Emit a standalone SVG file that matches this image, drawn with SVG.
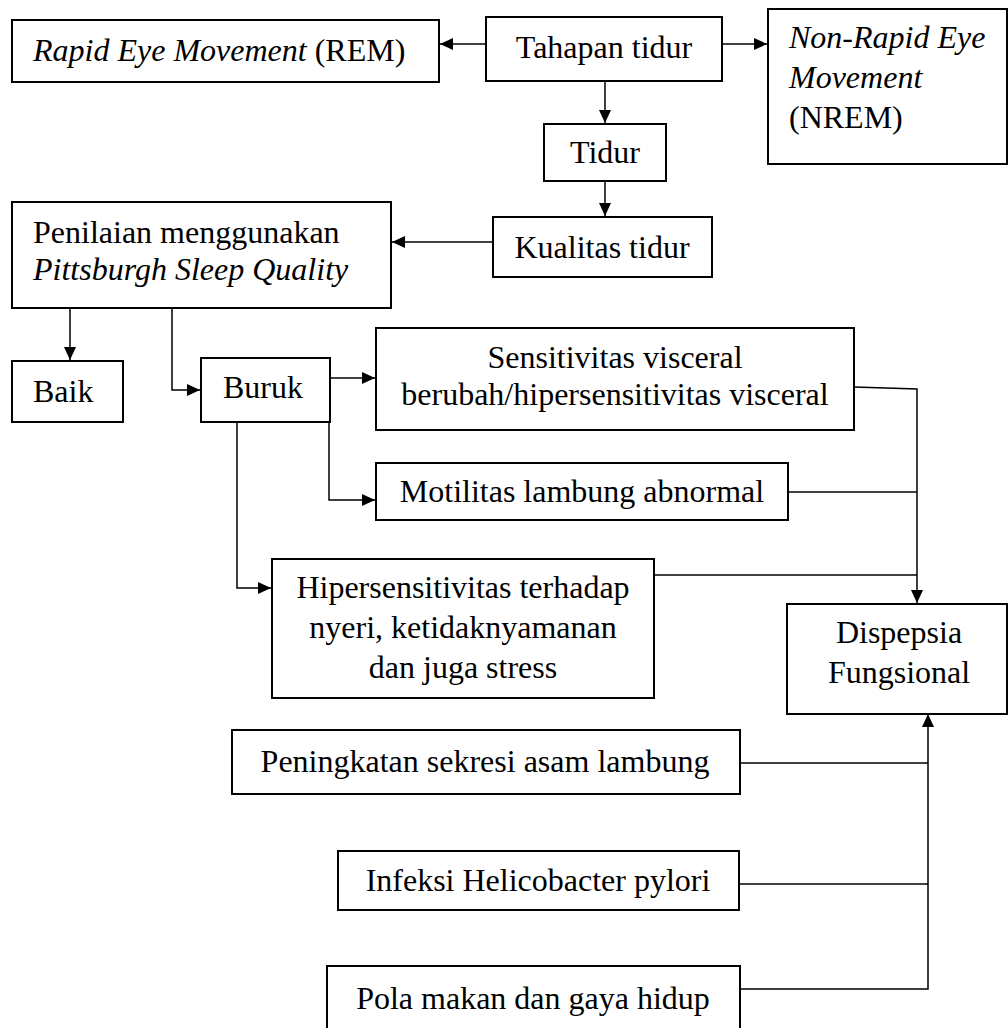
<svg xmlns="http://www.w3.org/2000/svg" width="1008" height="1028" viewBox="0 0 1008 1028">
<defs>
<style>
.box{fill:#fff;stroke:#000;stroke-width:2}
.ln{fill:none;stroke:#000;stroke-width:1.5}
text{font-family:"Liberation Serif","Times New Roman",serif;font-size:32px;fill:#000}
.c{text-anchor:middle}
.i{font-style:italic}
</style>
<marker id="ah" markerUnits="userSpaceOnUse" markerWidth="14" markerHeight="12" refX="13" refY="6" orient="auto">
<path d="M0,0 L13,6 L0,12 Z" fill="#000"/>
</marker>
</defs>
<rect width="1008" height="1028" fill="#fff"/>
<g id="connectors">
<path class="ln" d="M486,44 H440" marker-end="url(#ah)"/>
<path class="ln" d="M722,44 H767" marker-end="url(#ah)"/>
<path class="ln" d="M605,81 V123" marker-end="url(#ah)"/>
<path class="ln" d="M605,181 V216" marker-end="url(#ah)"/>
<path class="ln" d="M493,242 H392" marker-end="url(#ah)"/>
<path class="ln" d="M70,308 V360" marker-end="url(#ah)"/>
<path class="ln" d="M172,308 V390 H200" marker-end="url(#ah)"/>
<path class="ln" d="M330,378 H375" marker-end="url(#ah)"/>
<path class="ln" d="M329,422 V500 H375" marker-end="url(#ah)"/>
<path class="ln" d="M237,422 V588 H271" marker-end="url(#ah)"/>
<path class="ln" d="M854,387 L917,389 V603" marker-end="url(#ah)"/>
<path class="ln" d="M788,492 H917"/>
<path class="ln" d="M654,575 H917"/>
<path class="ln" d="M740,989 H928 V714" marker-end="url(#ah)"/>
<path class="ln" d="M740,763 H928"/>
<path class="ln" d="M740,884 H928"/>
</g>
<g id="rem"><rect class="box" x="12" y="20" width="427" height="62"/><text x="33" y="61"><tspan class="i">Rapid Eye Movement</tspan> (REM)</text></g>
<g id="tahapan"><rect class="box" x="486" y="17" width="236" height="64"/><text class="c" x="604" y="58">Tahapan tidur</text></g>
<g id="nrem"><rect class="box" x="768" y="9" width="239" height="155"/><text x="789" y="48" class="i">Non-Rapid Eye</text><text x="789" y="88" class="i">Movement</text><text x="789" y="128">(NREM)</text></g>
<g id="tidur"><rect class="box" x="544" y="124" width="122" height="57"/><text class="c" x="605" y="163">Tidur</text></g>
<g id="kualitas"><rect class="box" x="493" y="217" width="219" height="60"/><text class="c" x="602" y="258">Kualitas tidur</text></g>
<g id="penilaian"><rect class="box" x="12" y="202" width="379" height="106"/><text x="33" y="243">Penilaian menggunakan</text><text x="33" y="280" class="i">Pittsburgh Sleep Quality</text></g>
<g id="baik"><rect class="box" x="12" y="361" width="111" height="61"/><text x="33" y="402">Baik</text></g>
<g id="buruk"><rect class="box" x="201" y="358" width="129" height="64"/><text x="223" y="398">Buruk</text></g>
<g id="sensitivitas"><rect class="box" x="376" y="328" width="478" height="102"/><text class="c" x="615" y="368">Sensitivitas visceral</text><text class="c" x="615" y="405">berubah/hipersensitivitas visceral</text></g>
<g id="motilitas"><rect class="box" x="376" y="463" width="412" height="57"/><text class="c" x="582" y="502">Motilitas lambung abnormal</text></g>
<g id="hiper"><rect class="box" x="272" y="559" width="382" height="139"/><text class="c" x="463" y="598">Hipersensitivitas terhadap</text><text class="c" x="463" y="638">nyeri, ketidaknyamanan</text><text class="c" x="463" y="678">dan juga stress</text></g>
<g id="dispepsia"><rect class="box" x="787" y="604" width="220" height="110"/><text class="c" x="899" y="643">Dispepsia</text><text class="c" x="899" y="683">Fungsional</text></g>
<g id="peningkatan"><rect class="box" x="232" y="730" width="508" height="64"/><text class="c" x="485" y="772">Peningkatan sekresi asam lambung</text></g>
<g id="infeksi"><rect class="box" x="338" y="851" width="401" height="59"/><text class="c" x="538" y="891">Infeksi Helicobacter pylori</text></g>
<g id="pola"><rect class="box" x="327" y="966" width="413" height="72"/><text class="c" x="533" y="1009">Pola makan dan gaya hidup</text></g>
</svg>
